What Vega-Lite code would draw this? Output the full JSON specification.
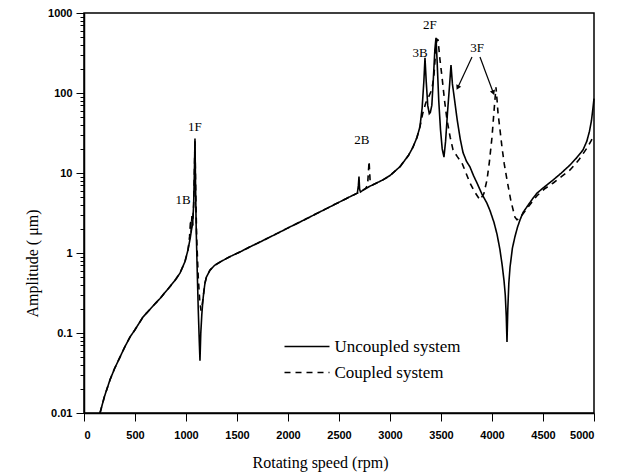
{
  "$schema": "https://vega.github.io/schema/vega-lite/v6.json",
  "width": 510,
  "height": 400,
  "autosize": {"type": "none"},
  "padding": {"left": 84, "top": 13, "right": 28, "bottom": 61},
  "background": "white",
  "config": {
    "view": {"stroke": "black", "strokeWidth": 1.5},
    "axis": {
      "domainColor": "black", "domainWidth": 1.5, "tickColor": "black", "tickWidth": 1,
      "labelFont": "Liberation Sans", "labelFontSize": 11, "labelFontWeight": "bold", "labelColor": "black",
      "titleFont": "Liberation Serif", "titleFontSize": 16, "titleFontWeight": "normal", "titleColor": "black",
      "grid": false, "labelOverlap": false
    }
  },
  "datasets": {
    "curves": [
      {"s":"Uncoupled system","rpm":157,"amp":0.01},{"s":"Uncoupled system","rpm":200,"amp":0.016},{"s":"Uncoupled system","rpm":255,"amp":0.026},{"s":"Uncoupled system","rpm":300,"amp":0.036},{"s":"Uncoupled system","rpm":353,"amp":0.05},{"s":"Uncoupled system","rpm":400,"amp":0.067},{"s":"Uncoupled system","rpm":451,"amp":0.089},{"s":"Uncoupled system","rpm":500,"amp":0.11},{"s":"Uncoupled system","rpm":578,"amp":0.158},{"s":"Uncoupled system","rpm":650,"amp":0.2},{"s":"Uncoupled system","rpm":745,"amp":0.27},{"s":"Uncoupled system","rpm":843,"amp":0.38},{"s":"Uncoupled system","rpm":900,"amp":0.47},{"s":"Uncoupled system","rpm":941,"amp":0.56},{"s":"Uncoupled system","rpm":990,"amp":0.78},{"s":"Uncoupled system","rpm":1020,"amp":1.1},{"s":"Uncoupled system","rpm":1040,"amp":1.5},{"s":"Uncoupled system","rpm":1055,"amp":2.0},{"s":"Uncoupled system","rpm":1065,"amp":2.3},{"s":"Uncoupled system","rpm":1075,"amp":4},{"s":"Uncoupled system","rpm":1082,"amp":10},{"s":"Uncoupled system","rpm":1088,"amp":27},{"s":"Uncoupled system","rpm":1093,"amp":8},{"s":"Uncoupled system","rpm":1100,"amp":2},{"s":"Uncoupled system","rpm":1110,"amp":0.6},{"s":"Uncoupled system","rpm":1120,"amp":0.2},{"s":"Uncoupled system","rpm":1130,"amp":0.08},{"s":"Uncoupled system","rpm":1137,"amp":0.045},{"s":"Uncoupled system","rpm":1145,"amp":0.1},{"s":"Uncoupled system","rpm":1155,"amp":0.17},{"s":"Uncoupled system","rpm":1165,"amp":0.25},{"s":"Uncoupled system","rpm":1175,"amp":0.33},{"s":"Uncoupled system","rpm":1186,"amp":0.42},{"s":"Uncoupled system","rpm":1200,"amp":0.5},{"s":"Uncoupled system","rpm":1235,"amp":0.61},{"s":"Uncoupled system","rpm":1280,"amp":0.7},{"s":"Uncoupled system","rpm":1333,"amp":0.77},{"s":"Uncoupled system","rpm":1430,"amp":0.9},{"s":"Uncoupled system","rpm":1529,"amp":1.03},{"s":"Uncoupled system","rpm":1625,"amp":1.19},{"s":"Uncoupled system","rpm":1725,"amp":1.37},{"s":"Uncoupled system","rpm":1822,"amp":1.58},{"s":"Uncoupled system","rpm":1922,"amp":1.83},{"s":"Uncoupled system","rpm":2020,"amp":2.12},{"s":"Uncoupled system","rpm":2118,"amp":2.44},{"s":"Uncoupled system","rpm":2300,"amp":3.2},{"s":"Uncoupled system","rpm":2450,"amp":4.0},{"s":"Uncoupled system","rpm":2600,"amp":5.0},{"s":"Uncoupled system","rpm":2680,"amp":5.6},{"s":"Uncoupled system","rpm":2690,"amp":7},{"s":"Uncoupled system","rpm":2696,"amp":9},{"s":"Uncoupled system","rpm":2702,"amp":6.3},{"s":"Uncoupled system","rpm":2710,"amp":5.8},{"s":"Uncoupled system","rpm":2800,"amp":6.8},{"s":"Uncoupled system","rpm":2931,"amp":8.2},{"s":"Uncoupled system","rpm":3000,"amp":9.3},{"s":"Uncoupled system","rpm":3098,"amp":12},{"s":"Uncoupled system","rpm":3180,"amp":16.5},{"s":"Uncoupled system","rpm":3225,"amp":21},{"s":"Uncoupled system","rpm":3265,"amp":28},{"s":"Uncoupled system","rpm":3294,"amp":38},{"s":"Uncoupled system","rpm":3315,"amp":65},{"s":"Uncoupled system","rpm":3332,"amp":140},{"s":"Uncoupled system","rpm":3343,"amp":275},{"s":"Uncoupled system","rpm":3355,"amp":140},{"s":"Uncoupled system","rpm":3370,"amp":70},{"s":"Uncoupled system","rpm":3385,"amp":55},{"s":"Uncoupled system","rpm":3395,"amp":57},{"s":"Uncoupled system","rpm":3410,"amp":70},{"s":"Uncoupled system","rpm":3425,"amp":150},{"s":"Uncoupled system","rpm":3440,"amp":350},{"s":"Uncoupled system","rpm":3451,"amp":490},{"s":"Uncoupled system","rpm":3462,"amp":250},{"s":"Uncoupled system","rpm":3478,"amp":80},{"s":"Uncoupled system","rpm":3495,"amp":35},{"s":"Uncoupled system","rpm":3512,"amp":20},{"s":"Uncoupled system","rpm":3529,"amp":15.8},{"s":"Uncoupled system","rpm":3545,"amp":25},{"s":"Uncoupled system","rpm":3565,"amp":60},{"s":"Uncoupled system","rpm":3585,"amp":130},{"s":"Uncoupled system","rpm":3598,"amp":224},{"s":"Uncoupled system","rpm":3612,"amp":130},{"s":"Uncoupled system","rpm":3637,"amp":75},{"s":"Uncoupled system","rpm":3660,"amp":45},{"s":"Uncoupled system","rpm":3690,"amp":26},{"s":"Uncoupled system","rpm":3716,"amp":18},{"s":"Uncoupled system","rpm":3750,"amp":14},{"s":"Uncoupled system","rpm":3784,"amp":11.9},{"s":"Uncoupled system","rpm":3820,"amp":9.2},{"s":"Uncoupled system","rpm":3853,"amp":7.5},{"s":"Uncoupled system","rpm":3900,"amp":5.5},{"s":"Uncoupled system","rpm":3950,"amp":4.2},{"s":"Uncoupled system","rpm":3980,"amp":3.4},{"s":"Uncoupled system","rpm":4020,"amp":2.4},{"s":"Uncoupled system","rpm":4050,"amp":1.7},{"s":"Uncoupled system","rpm":4078,"amp":1.1},{"s":"Uncoupled system","rpm":4100,"amp":0.7},{"s":"Uncoupled system","rpm":4118,"amp":0.45},{"s":"Uncoupled system","rpm":4130,"amp":0.3},{"s":"Uncoupled system","rpm":4140,"amp":0.16},{"s":"Uncoupled system","rpm":4147,"amp":0.077},{"s":"Uncoupled system","rpm":4155,"amp":0.2},{"s":"Uncoupled system","rpm":4165,"amp":0.42},{"s":"Uncoupled system","rpm":4177,"amp":0.67},{"s":"Uncoupled system","rpm":4200,"amp":1.15},{"s":"Uncoupled system","rpm":4225,"amp":1.6},{"s":"Uncoupled system","rpm":4250,"amp":2.1},{"s":"Uncoupled system","rpm":4275,"amp":2.6},{"s":"Uncoupled system","rpm":4304,"amp":3.2},{"s":"Uncoupled system","rpm":4350,"amp":3.9},{"s":"Uncoupled system","rpm":4400,"amp":4.8},{"s":"Uncoupled system","rpm":4441,"amp":5.6},{"s":"Uncoupled system","rpm":4520,"amp":6.8},{"s":"Uncoupled system","rpm":4600,"amp":8.2},{"s":"Uncoupled system","rpm":4680,"amp":10},{"s":"Uncoupled system","rpm":4765,"amp":12.6},{"s":"Uncoupled system","rpm":4830,"amp":15.5},{"s":"Uncoupled system","rpm":4892,"amp":19.4},{"s":"Uncoupled system","rpm":4930,"amp":25},{"s":"Uncoupled system","rpm":4955,"amp":33},{"s":"Uncoupled system","rpm":4975,"amp":45},{"s":"Uncoupled system","rpm":4990,"amp":65},{"s":"Uncoupled system","rpm":5000,"amp":85},
      {"s":"Coupled system","rpm":157,"amp":0.01},{"s":"Coupled system","rpm":200,"amp":0.016},{"s":"Coupled system","rpm":255,"amp":0.026},{"s":"Coupled system","rpm":300,"amp":0.036},{"s":"Coupled system","rpm":353,"amp":0.05},{"s":"Coupled system","rpm":400,"amp":0.067},{"s":"Coupled system","rpm":451,"amp":0.089},{"s":"Coupled system","rpm":500,"amp":0.11},{"s":"Coupled system","rpm":578,"amp":0.158},{"s":"Coupled system","rpm":650,"amp":0.2},{"s":"Coupled system","rpm":745,"amp":0.27},{"s":"Coupled system","rpm":843,"amp":0.38},{"s":"Coupled system","rpm":900,"amp":0.47},{"s":"Coupled system","rpm":941,"amp":0.56},{"s":"Coupled system","rpm":990,"amp":0.78},{"s":"Coupled system","rpm":1020,"amp":1.1},{"s":"Coupled system","rpm":1035,"amp":1.6},{"s":"Coupled system","rpm":1045,"amp":2.6},{"s":"Coupled system","rpm":1050,"amp":1.8},{"s":"Coupled system","rpm":1058,"amp":2.9},{"s":"Coupled system","rpm":1065,"amp":2.2},{"s":"Coupled system","rpm":1075,"amp":4},{"s":"Coupled system","rpm":1082,"amp":10},{"s":"Coupled system","rpm":1088,"amp":25},{"s":"Coupled system","rpm":1095,"amp":6},{"s":"Coupled system","rpm":1105,"amp":1.5},{"s":"Coupled system","rpm":1120,"amp":0.5},{"s":"Coupled system","rpm":1135,"amp":0.25},{"s":"Coupled system","rpm":1147,"amp":0.19},{"s":"Coupled system","rpm":1158,"amp":0.22},{"s":"Coupled system","rpm":1170,"amp":0.29},{"s":"Coupled system","rpm":1186,"amp":0.42},{"s":"Coupled system","rpm":1200,"amp":0.5},{"s":"Coupled system","rpm":1235,"amp":0.61},{"s":"Coupled system","rpm":1280,"amp":0.7},{"s":"Coupled system","rpm":1333,"amp":0.77},{"s":"Coupled system","rpm":1430,"amp":0.9},{"s":"Coupled system","rpm":1529,"amp":1.03},{"s":"Coupled system","rpm":1625,"amp":1.19},{"s":"Coupled system","rpm":1725,"amp":1.37},{"s":"Coupled system","rpm":1822,"amp":1.58},{"s":"Coupled system","rpm":1922,"amp":1.83},{"s":"Coupled system","rpm":2020,"amp":2.12},{"s":"Coupled system","rpm":2118,"amp":2.44},{"s":"Coupled system","rpm":2300,"amp":3.2},{"s":"Coupled system","rpm":2450,"amp":4.0},{"s":"Coupled system","rpm":2600,"amp":5.0},{"s":"Coupled system","rpm":2680,"amp":5.6},{"s":"Coupled system","rpm":2710,"amp":5.9},{"s":"Coupled system","rpm":2760,"amp":6.4},{"s":"Coupled system","rpm":2780,"amp":7},{"s":"Coupled system","rpm":2795,"amp":14},{"s":"Coupled system","rpm":2805,"amp":8},{"s":"Coupled system","rpm":2830,"amp":7.1},{"s":"Coupled system","rpm":2931,"amp":8.2},{"s":"Coupled system","rpm":3000,"amp":9.3},{"s":"Coupled system","rpm":3098,"amp":12},{"s":"Coupled system","rpm":3180,"amp":16.5},{"s":"Coupled system","rpm":3225,"amp":21},{"s":"Coupled system","rpm":3265,"amp":28},{"s":"Coupled system","rpm":3294,"amp":38},{"s":"Coupled system","rpm":3320,"amp":55},{"s":"Coupled system","rpm":3350,"amp":75},{"s":"Coupled system","rpm":3380,"amp":90},{"s":"Coupled system","rpm":3410,"amp":110},{"s":"Coupled system","rpm":3430,"amp":160},{"s":"Coupled system","rpm":3445,"amp":300},{"s":"Coupled system","rpm":3460,"amp":470},{"s":"Coupled system","rpm":3471,"amp":460},{"s":"Coupled system","rpm":3490,"amp":260},{"s":"Coupled system","rpm":3510,"amp":158},{"s":"Coupled system","rpm":3535,"amp":80},{"s":"Coupled system","rpm":3559,"amp":46},{"s":"Coupled system","rpm":3590,"amp":28},{"s":"Coupled system","rpm":3618,"amp":19.4},{"s":"Coupled system","rpm":3660,"amp":16},{"s":"Coupled system","rpm":3706,"amp":13.3},{"s":"Coupled system","rpm":3745,"amp":10},{"s":"Coupled system","rpm":3784,"amp":7.5},{"s":"Coupled system","rpm":3830,"amp":5.8},{"s":"Coupled system","rpm":3882,"amp":4.6},{"s":"Coupled system","rpm":3920,"amp":5.5},{"s":"Coupled system","rpm":3951,"amp":8.2},{"s":"Coupled system","rpm":3975,"amp":14},{"s":"Coupled system","rpm":4000,"amp":28},{"s":"Coupled system","rpm":4020,"amp":60},{"s":"Coupled system","rpm":4039,"amp":118},{"s":"Coupled system","rpm":4050,"amp":80},{"s":"Coupled system","rpm":4059,"amp":56},{"s":"Coupled system","rpm":4078,"amp":35},{"s":"Coupled system","rpm":4098,"amp":21},{"s":"Coupled system","rpm":4120,"amp":13},{"s":"Coupled system","rpm":4147,"amp":8.2},{"s":"Coupled system","rpm":4185,"amp":4.5},{"s":"Coupled system","rpm":4225,"amp":2.8},{"s":"Coupled system","rpm":4245,"amp":2.6},{"s":"Coupled system","rpm":4270,"amp":2.7},{"s":"Coupled system","rpm":4304,"amp":3.1},{"s":"Coupled system","rpm":4350,"amp":3.7},{"s":"Coupled system","rpm":4441,"amp":5.2},{"s":"Coupled system","rpm":4520,"amp":6.4},{"s":"Coupled system","rpm":4600,"amp":7.5},{"s":"Coupled system","rpm":4680,"amp":9},{"s":"Coupled system","rpm":4765,"amp":10.9},{"s":"Coupled system","rpm":4850,"amp":14.5},{"s":"Coupled system","rpm":4931,"amp":20.5},{"s":"Coupled system","rpm":4970,"amp":25},{"s":"Coupled system","rpm":5000,"amp":30}
    ],
    "labels": [
      {"t":"1B","rpm":971,"amp":4.6},
      {"t":"1F","rpm":1088,"amp":37.6},
      {"t":"2B","rpm":2725,"amp":25.9},
      {"t":"2F","rpm":3392,"amp":708},
      {"t":"3B","rpm":3294,"amp":316},
      {"t":"3F","rpm":3853,"amp":363}
    ],
    "arrows": [
      {"rpm":3804,"amp":282,"rpm2":3667,"amp2":119},
      {"rpm":3882,"amp":282,"rpm2":4010,"amp2":103}
    ]
  },
  "layer": [
    {
      "data": {"name": "curves"},
      "mark": {"type": "line", "color": "black", "strokeWidth": 1.6},
      "encoding": {
        "x": {
          "field": "rpm", "type": "quantitative",
          "scale": {"domain": [0, 5000], "nice": false},
          "axis": {
            "title": "Rotating speed (rpm)",
            "values": [0,250,500,750,1000,1250,1500,1750,2000,2250,2500,2750,3000,3250,3500,3750,4000,4250,4500,4750,5000],
            "labelExpr": "datum.value % 500 === 0 ? datum.label : ''",
            "format": "d",
            "tickSize": {"condition": {"test": "datum.value % 500 === 0", "value": 8}, "value": 4},
            "labelPadding": 8,
            "titleX": 236, "titleY": 49, "titleAlign": "center", "titleBaseline": "middle"
          }
        },
        "y": {
          "field": "amp", "type": "quantitative",
          "scale": {"type": "log", "domain": [0.01, 1000], "nice": false},
          "axis": {
            "title": "Amplitude ( μm)",
            "values": [0.01,0.02,0.03,0.04,0.05,0.06,0.07,0.08,0.09,0.1,0.2,0.3,0.4,0.5,0.6,0.7,0.8,0.9,1,2,3,4,5,6,7,8,9,10,20,30,40,50,60,70,80,90,100,200,300,400,500,600,700,800,900,1000],
            "format": "~g",
            "labelExpr": "abs(log(datum.value)/LN10 - round(log(datum.value)/LN10)) < 0.001 ? datum.label : ''",
            "tickSize": {"condition": {"test": "abs(log(datum.value)/LN10 - round(log(datum.value)/LN10)) < 0.001", "value": 8}, "value": 4},
            "labelPadding": 4,
            "titleX": -52, "titleY": 250, "titleAngle": -90, "titleAlign": "center", "titleBaseline": "middle"
          }
        },
        "strokeDash": {
          "field": "s", "type": "nominal",
          "scale": {"domain": ["Uncoupled system", "Coupled system"], "range": [[1, 0], [6, 5]]},
          "legend": {
            "title": null, "orient": "none", "legendX": 214.5, "legendY": 325,
            "symbolType": "M-4.5,0H4.5", "symbolSize": 100, "symbolStrokeColor": "black", "symbolStrokeWidth": 1.5,
            "labelFont": "Liberation Serif", "labelFontSize": 17, "labelColor": "black", "labelOffset": 19,
            "rowPadding": 8, "padding": 0
          }
        }
      }
    },
    {
      "data": {"name": "labels"},
      "mark": {"type": "text", "font": "Liberation Serif", "fontSize": 13, "color": "black", "align": "center", "baseline": "middle"},
      "encoding": {
        "x": {"field": "rpm", "type": "quantitative"},
        "y": {"field": "amp", "type": "quantitative"},
        "text": {"field": "t"}
      }
    },
    {
      "data": {"name": "arrows"},
      "mark": {"type": "rule", "color": "black", "strokeWidth": 1.2},
      "encoding": {
        "x": {"field": "rpm", "type": "quantitative"},
        "y": {"field": "amp", "type": "quantitative"},
        "x2": {"field": "rpm2"},
        "y2": {"field": "amp2"}
      }
    },
    {
      "data": {"name": "arrows"},
      "transform": [{"filter": "datum.rpm2 < 3800"}],
      "mark": {"type": "point", "shape": "triangle", "filled": true, "color": "black", "size": 30, "angle": 207, "opacity": 1},
      "encoding": {
        "x": {"field": "rpm2", "type": "quantitative"},
        "y": {"field": "amp2", "type": "quantitative"}
      }
    },
    {
      "data": {"name": "arrows"},
      "transform": [{"filter": "datum.rpm2 > 3800"}],
      "mark": {"type": "point", "shape": "triangle", "filled": true, "color": "black", "size": 30, "angle": 159, "opacity": 1},
      "encoding": {
        "x": {"field": "rpm2", "type": "quantitative"},
        "y": {"field": "amp2", "type": "quantitative"}
      }
    }
  ]
}
